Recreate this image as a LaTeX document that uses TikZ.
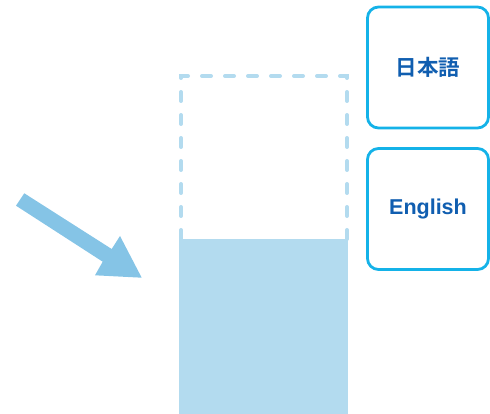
\documentclass[tikz,border=0pt]{standalone}
\usepackage{fontspec}
\setmainfont{Liberation Sans}
\newfontfamily\cjk{Noto Sans CJK JP}[BoldFont={Noto Sans CJK JP Bold}]
\definecolor{boxline}{RGB}{20,178,232}
\definecolor{txtblue}{RGB}{16,94,176}
\definecolor{lightfill}{RGB}{179,219,239}
\definecolor{arrowblue}{RGB}{133,196,230}
\begin{document}
\begin{tikzpicture}[x=1pt,y=-1pt,
  langbox/.style={draw=boxline, line width=2.8pt, rounded corners=11pt, minimum width=121pt, minimum height=121pt, text=txtblue, font=\bfseries\fontsize{21.5}{25}\selectfont},
  dashbox/.style={draw=lightfill, line width=4pt, line cap=round, dash pattern=on 9pt off 14pt},
]
\useasboundingbox (0,0) rectangle (490,414);
\node[langbox] (ja) at (428,67.5) {\cjk\bfseries\fontsize{21.5}{25}\selectfont 日本語};
\node[langbox] (en) at (428,209) {English};
\fill[lightfill] (179,239) rectangle (348,414);
\draw[dashbox] (181,239) -- (181,76) -- (347,76) -- (347,239);
\fill[arrowblue] (24.3,193.3) -- (16,205.7) -- (102.7,261.7) -- (95,275.3) -- (141.7,277.7) -- (120,236) -- (111.7,249) -- cycle;
\end{tikzpicture}
\end{document}
